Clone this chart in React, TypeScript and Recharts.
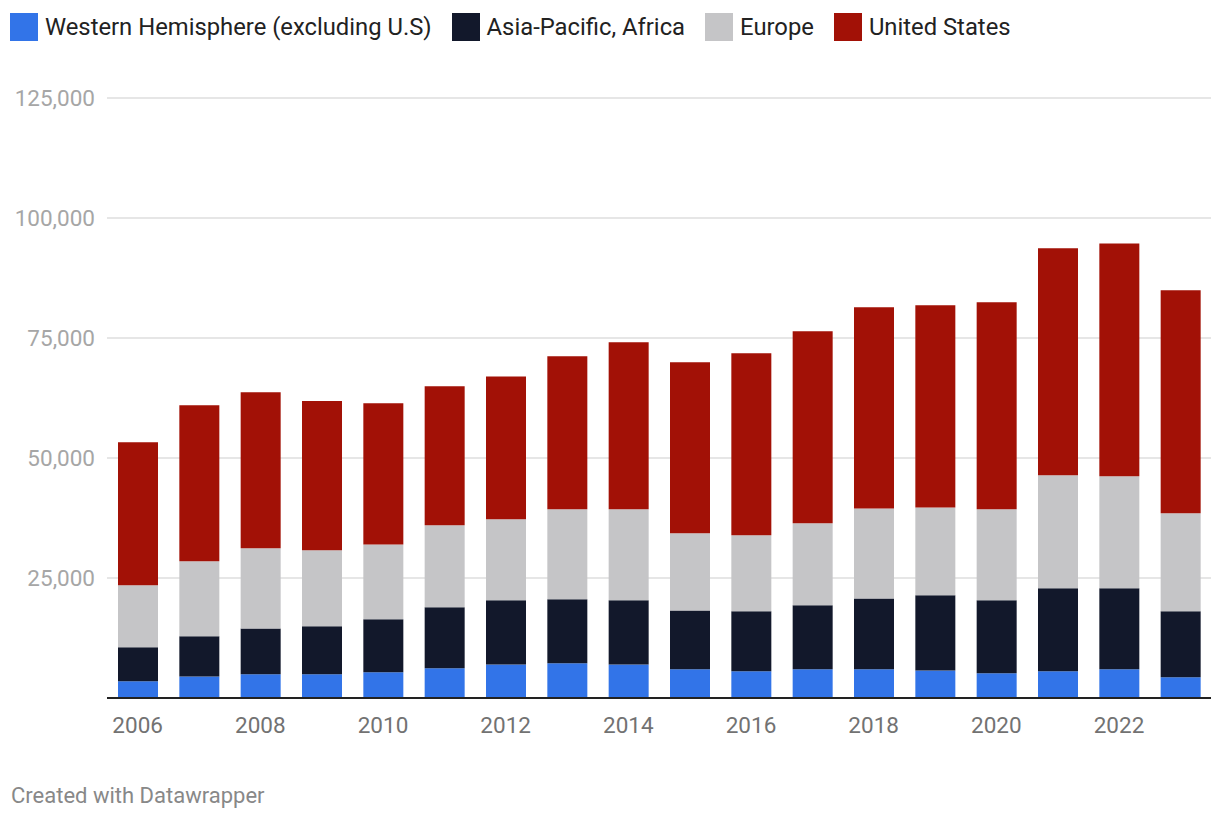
import React from 'react';
import { BarChart, Bar, XAxis, YAxis, CartesianGrid } from 'recharts';

const years = [
    '2006', '2007', '2008', '2009', '2010', '2011', '2012', '2013', '2014',
    '2015', '2016', '2017', '2018', '2019', '2020', '2021', '2022', '2023',
];

const westernHemisphere = [3500, 4500, 4950, 4950, 5350, 6200, 7000, 7250, 7000, 6000, 5550, 6000, 6000, 5750, 5150, 5550, 6000, 4300];
const asiaPacificAfrica = [7050, 8350, 9550, 10000, 11050, 12700, 13350, 13300, 13350, 12250, 12500, 13300, 14750, 15650, 15200, 17300, 16850, 13750];
const europe = [12950, 15650, 16700, 15850, 15600, 17100, 16900, 18750, 18950, 16050, 15850, 17100, 18750, 18300, 18950, 23550, 23350, 20450];
const unitedStates = [29800, 32500, 32500, 31100, 29400, 28950, 29750, 31900, 34800, 35650, 37900, 40000, 41900, 42100, 43150, 47300, 48500, 46450];

const yTicks = [25000, 50000, 75000, 100000, 125000];

// stacking order: bottom to top
const SERIES = [
    { key: 'western', name: 'Western Hemisphere (excluding U.S)', color: '#3274e8' },
    { key: 'asia', name: 'Asia-Pacific, Africa', color: '#12182b' },
    { key: 'europe', name: 'Europe', color: '#c5c5c7' },
    { key: 'us', name: 'United States', color: '#a21106' },
];

const chartData = years.map((year, i) => ({
    year,
    western: westernHemisphere[i],
    asia: asiaPacificAfrica[i],
    europe: europe[i],
    us: unitedStates[i],
}));

const FONT = 'Roboto, "Noto Sans", sans-serif';

export default function App() {
    return (
        <div style={{ position: 'absolute', left: 0, top: 0, width: 1220, height: 822, background: '#fff', fontFamily: FONT }}>
            {/* legend */}
            <div style={{ position: 'absolute', left: 10, top: 13, height: 28, display: 'flex', alignItems: 'center' }}>
                {SERIES.map(s => (
                    <div key={s.key} style={{ display: 'flex', alignItems: 'center', marginRight: 20 }}>
                        <div style={{ width: 28, height: 28, background: s.color, marginRight: 7 }} />
                        <span style={{ fontSize: 23.8, color: '#222', lineHeight: '28px', whiteSpace: 'nowrap' }}>{s.name}</span>
                    </div>
                ))}
            </div>

            <div style={{ position: 'absolute', left: 0, top: 0 }}>
                <BarChart
                    width={1220}
                    height={760}
                    data={chartData}
                    margin={{ top: 98, right: 9, bottom: 22, left: 0 }}
                >
                    <CartesianGrid vertical={false} stroke="#e6e6e6" strokeWidth={2} />
                    <XAxis
                        dataKey="year"
                        height={40}
                        interval={1}
                        tickLine={false}
                        tickSize={0}
                        tickMargin={19}
                        axisLine={{ stroke: '#222', strokeWidth: 2 }}
                        tick={{ fontSize: 22.5, fill: '#727272', fontFamily: FONT }}
                    />
                    <YAxis
                        width={107}
                        domain={[0, 125000]}
                        ticks={yTicks}
                        axisLine={false}
                        tickLine={false}
                        tickSize={0}
                        tickMargin={12}
                        tick={{ fontSize: 22.5, fill: '#a6a6a6', fontFamily: FONT }}
                        tickFormatter={(v: number) => v.toLocaleString('en-US')}
                    />
                    {SERIES.map(s => (
                        <Bar
                            key={s.key}
                            dataKey={s.key}
                            name={s.name}
                            stackId="total"
                            fill={s.color}
                            barSize={40}
                            isAnimationActive={false}
                        />
                    ))}
                </BarChart>
            </div>

            <div style={{ position: 'absolute', left: 11, top: 783, fontSize: 22, color: '#888', whiteSpace: 'nowrap' }}>
                Created with Datawrapper
            </div>
        </div>
    );
}
